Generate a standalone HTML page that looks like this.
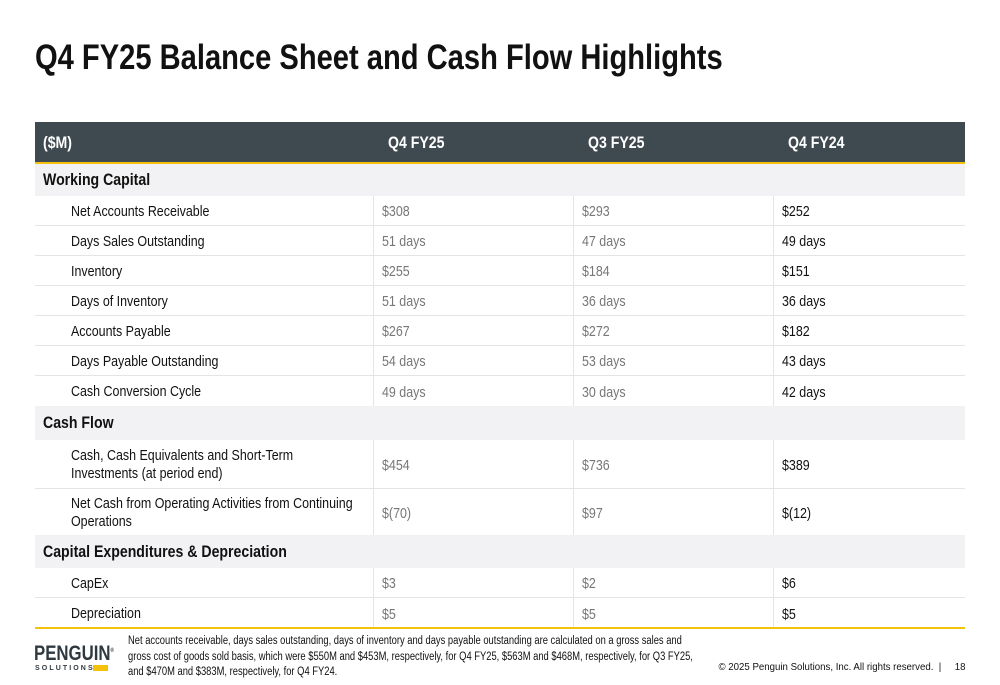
<!DOCTYPE html>
<html><head><meta charset="utf-8"><style>
*{margin:0;padding:0;box-sizing:border-box}
body{width:1000px;height:685px;background:#fff;position:relative;overflow:hidden;font-family:"Liberation Sans",sans-serif;color:#111}
.a{position:absolute}
.s{display:inline-block;transform:scaleX(0.83);transform-origin:left center;white-space:nowrap}
h1{position:absolute;left:35px;top:38px;font-size:35px;font-weight:bold;white-space:nowrap;transform:scaleX(0.832);transform-origin:left top}
.hdr{left:35px;top:122px;width:930px;height:40px;background:#3e4a50;color:#fff;font-weight:bold;font-size:17px}
.hdr span{position:absolute;top:11px}
.ybar{left:35px;width:930px;height:2px;background:#f4c20d}
.sec{left:35px;width:930px;background:#f2f2f4;font-weight:bold;font-size:17px;padding-left:8px;display:flex;align-items:center}
.row{left:35px;width:930px;border-bottom:1px solid #e4e4e6;font-size:15px}
.row>div{position:absolute;top:0;height:100%;display:flex;align-items:center;padding-top:2px}
.c1{left:36px;width:300px;line-height:18px}
.c2{left:338px;width:200px;padding-left:8px;color:#777;border-left:1px solid #e4e4e6}
.c3{left:538px;width:200px;padding-left:8px;color:#777;border-left:1px solid #e4e4e6}
.c4{left:738px;width:192px;padding-left:8px;color:#111;border-left:1px solid #e4e4e6}
.foot{left:128px;top:634px;font-size:11.5px;line-height:15.5px;white-space:nowrap;transform:scaleX(0.815);transform-origin:left top}
</style></head><body>
<h1>Q4 FY25 Balance Sheet and Cash Flow Highlights</h1>
<div class="a hdr"><span class="s" style="left:8px">($M)</span><span class="s" style="left:353px">Q4 FY25</span><span class="s" style="left:553px">Q3 FY25</span><span class="s" style="left:753px">Q4 FY24</span></div>
<div class="a ybar" style="top:162px"></div>
<div class="a sec" style="top:164px;height:32px"><span class="s">Working Capital</span></div>
<div class="a row" style="top:196px;height:30px"><div class="c1"><span class="s">Net Accounts Receivable</span></div><div class="c2"><span class="s">$308</span></div><div class="c3"><span class="s">$293</span></div><div class="c4"><span class="s">$252</span></div></div>
<div class="a row" style="top:226px;height:30px"><div class="c1"><span class="s">Days Sales Outstanding</span></div><div class="c2"><span class="s">51 days</span></div><div class="c3"><span class="s">47 days</span></div><div class="c4"><span class="s">49 days</span></div></div>
<div class="a row" style="top:256px;height:30px"><div class="c1"><span class="s">Inventory</span></div><div class="c2"><span class="s">$255</span></div><div class="c3"><span class="s">$184</span></div><div class="c4"><span class="s">$151</span></div></div>
<div class="a row" style="top:286px;height:30px"><div class="c1"><span class="s">Days of Inventory</span></div><div class="c2"><span class="s">51 days</span></div><div class="c3"><span class="s">36 days</span></div><div class="c4"><span class="s">36 days</span></div></div>
<div class="a row" style="top:316px;height:30px"><div class="c1"><span class="s">Accounts Payable</span></div><div class="c2"><span class="s">$267</span></div><div class="c3"><span class="s">$272</span></div><div class="c4"><span class="s">$182</span></div></div>
<div class="a row" style="top:346px;height:30px"><div class="c1"><span class="s">Days Payable Outstanding</span></div><div class="c2"><span class="s">54 days</span></div><div class="c3"><span class="s">53 days</span></div><div class="c4"><span class="s">43 days</span></div></div>
<div class="a row" style="top:376px;height:30px;border-bottom:none"><div class="c1"><span class="s">Cash Conversion Cycle</span></div><div class="c2"><span class="s">49 days</span></div><div class="c3"><span class="s">30 days</span></div><div class="c4"><span class="s">42 days</span></div></div>
<div class="a sec" style="top:406px;height:34px"><span class="s">Cash Flow</span></div>
<div class="a row" style="top:440px;height:49px"><div class="c1"><span class="s">Cash, Cash Equivalents and Short-Term<br>Investments (at period end)</span></div><div class="c2"><span class="s">$454</span></div><div class="c3"><span class="s">$736</span></div><div class="c4"><span class="s">$389</span></div></div>
<div class="a row" style="top:489px;height:46px;border-bottom:none"><div class="c1"><span class="s">Net Cash from Operating Activities from Continuing<br>Operations</span></div><div class="c2"><span class="s">$(70)</span></div><div class="c3"><span class="s">$97</span></div><div class="c4"><span class="s">$(12)</span></div></div>
<div class="a sec" style="top:535px;height:33px"><span class="s">Capital Expenditures &amp; Depreciation</span></div>
<div class="a row" style="top:568px;height:30px"><div class="c1"><span class="s">CapEx</span></div><div class="c2"><span class="s">$3</span></div><div class="c3"><span class="s">$2</span></div><div class="c4"><span class="s">$6</span></div></div>
<div class="a row" style="top:598px;height:30px;border-bottom:none"><div class="c1"><span class="s">Depreciation</span></div><div class="c2"><span class="s">$5</span></div><div class="c3"><span class="s">$5</span></div><div class="c4"><span class="s">$5</span></div></div>
<div class="a ybar" style="top:627px"></div>
<div class="a" style="left:34px;top:642px;font-size:21px;font-weight:bold;color:#2f3a40;transform:scaleX(0.8);transform-origin:left top;white-space:nowrap">PENGUIN<sup style="font-size:6px">®</sup></div>
<div class="a" style="left:35px;top:665px;font-size:7px;font-weight:bold;color:#2f3a40;letter-spacing:2.1px">SOLUTIONS</div>
<div class="a" style="left:93px;top:665px;width:15px;height:6px;background:#f4c20d"></div>
<div class="a foot">Net accounts receivable, days sales outstanding, days of inventory and days payable outstanding are calculated on a gross sales and<br>gross cost of goods sold basis, which were $550M and $453M, respectively, for Q4 FY25, $563M and $468M, respectively, for Q3 FY25,<br>and $470M and $383M, respectively, for Q4 FY24.</div>
<div class="a" style="right:35px;top:661px;font-size:10.5px;white-space:nowrap;transform:scaleX(0.92);transform-origin:right top">© 2025 Penguin Solutions, Inc. All rights reserved. &nbsp;|&nbsp;&nbsp;&nbsp;&nbsp; 18</div>
</body></html>
